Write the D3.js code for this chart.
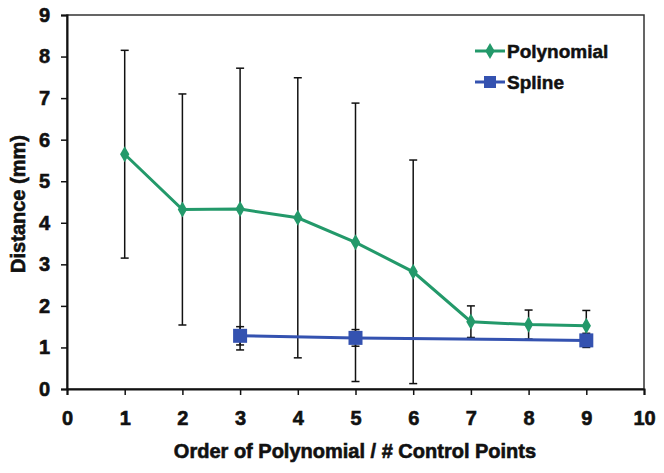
<!DOCTYPE html>
<html>
<head>
<meta charset="utf-8">
<script src="https://cdn.jsdelivr.net/npm/d3@7"></script>
<style>
  body { margin: 0; background: #fff; }
  text { font-family: "Liberation Sans", Arial, sans-serif; font-weight: bold; }
</style>
</head>
<body>
<svg id="canvas" width="664" height="473"></svg>
<script>
// x positions
let polyX = [1, 2, 3, 4, 5, 6, 7, 8, 9]
let polyY = [5.65, 4.32, 4.33, 4.12, 3.53, 2.82, 1.62, 1.55, 1.52]
let polyErr = [2.5, 2.78, 3.39, 3.37, 3.35, 2.69, 0.38, 0.35, 0.37]

let splineX = [3, 5, 9]
let splineY = [1.28, 1.23, 1.17]
let splineErr = [0.22, 0.2, 0.17]

let xTicks = [0, 1, 2, 3, 4, 5, 6, 7, 8, 9, 10]
let yTicks = [0, 1, 2, 3, 4, 5, 6, 7, 8, 9]

let green = '#23996a'
let blue = '#3452b0'

let canvas = d3.select('#canvas')

let plotLeft = 67, plotRight = 644, plotTop = 15, plotBottom = 389

let x = d3.scaleLinear().domain([0, 10]).range([plotLeft, plotRight])
let y = d3.scaleLinear().domain([0, 9]).range([plotBottom, plotTop])

// plot frame
canvas.append('rect')
  .attr('x', plotLeft).attr('y', plotTop)
  .attr('width', plotRight - plotLeft).attr('height', plotBottom - plotTop)
  .attr('fill', 'none').attr('stroke', '#333').attr('stroke-width', 1.5)

// axes
let xAxis = canvas.append('g')
  .attr('transform', `translate(0,${plotBottom})`)
  .call(d3.axisBottom(x).tickValues(xTicks).tickSize(6).tickPadding(16))
let yAxis = canvas.append('g')
  .attr('transform', `translate(${plotLeft},0)`)
  .call(d3.axisLeft(y).tickValues(yTicks).tickSize(6).tickPadding(11))

;[xAxis, yAxis].forEach(a => {
  a.select('.domain').attr('stroke', '#111').attr('stroke-width', 2)
  a.selectAll('.tick line').attr('stroke', '#111').attr('stroke-width', 1.5)
  a.selectAll('.tick text')
    .attr('fill', '#111')
    .attr('stroke', '#111').attr('stroke-width', 0.6)
    .style('font-size', '20px')
    .style('font-family', '"Liberation Sans", Arial, sans-serif')
    .style('font-weight', 'bold')
})

// error bars
let drawErr = (xs, ys, es, cls) => {
  let g = canvas.append('g').attr('class', cls)
  xs.forEach((xv, i) => {
    let cx = x(xv)
    let y1 = y(ys[i] + es[i]), y2 = y(ys[i] - es[i])
    g.append('line').attr('x1', cx).attr('x2', cx).attr('y1', y1).attr('y2', y2)
      .attr('stroke', '#111').attr('stroke-width', 1.5)
    ;[y1, y2].forEach(yy => {
      g.append('line').attr('x1', cx - 4).attr('x2', cx + 4).attr('y1', yy).attr('y2', yy)
        .attr('stroke', '#111').attr('stroke-width', 1.5)
    })
  })
}
drawErr(polyX, polyY, polyErr, 'poly-err')
drawErr(splineX, splineY, splineErr, 'spline-err')

let line = d3.line().x(d => x(d[0])).y(d => y(d[1]))

let polyData = polyX.map((v, i) => [v, polyY[i]])
let splineData = splineX.map((v, i) => [v, splineY[i]])

canvas.append('path').datum(polyData)
  .attr('d', line).attr('fill', 'none')
  .attr('stroke', green).attr('stroke-width', 3)

canvas.append('path').datum(splineData)
  .attr('d', line).attr('fill', 'none')
  .attr('stroke', blue).attr('stroke-width', 3)

let diamond = d3.symbol().type(d3.symbolDiamond).size(75)

canvas.selectAll('.pm').data(polyData).enter()
  .append('path')
  .attr('class', 'pm')
  .attr('d', diamond)
  .attr('transform', d => `translate(${x(d[0])},${y(d[1])})`)
  .attr('fill', green)

canvas.selectAll('.sm').data(splineData).enter()
  .append('rect')
  .attr('class', 'sm')
  .attr('x', d => x(d[0]) - 7).attr('y', d => y(d[1]) - 7)
  .attr('width', 14).attr('height', 14)
  .attr('fill', blue)

// legend
let legend = canvas.append('g')
let items = [['Polynomial', green, 'diamond'], ['Spline', blue, 'square']]
items.forEach((it, i) => {
  let ly = 51 + i * 31
  legend.append('line').attr('x1', 475).attr('x2', 505).attr('y1', ly).attr('y2', ly)
    .attr('stroke', it[1]).attr('stroke-width', 3)
  if (it[2] == 'diamond') {
    legend.append('path').attr('d', diamond).attr('transform', `translate(490,${ly})`).attr('fill', it[1])
  } else {
    legend.append('rect').attr('x', 484).attr('y', ly - 6).attr('width', 12).attr('height', 12).attr('fill', it[1])
  }
  legend.append('text').attr('x', 507).attr('y', ly + 7)
    .style('font-size', '19px').attr('fill', '#111')
    .attr('stroke', '#111').attr('stroke-width', 0.5)
    .text(it[0])
})

// axis titles
canvas.append('text')
  .attr('x', 355).attr('y', 458)
  .attr('text-anchor', 'middle')
  .style('font-size', '20px').attr('fill', '#111')
  .attr('stroke', '#111').attr('stroke-width', 0.6)
  .text('Order of Polynomial / # Control Points')

canvas.append('text')
  .attr('transform', 'translate(25,204) rotate(-90)')
  .attr('text-anchor', 'middle')
  .style('font-size', '20px').attr('fill', '#111')
  .attr('stroke', '#111').attr('stroke-width', 0.6)
  .text('Distance (mm)')
</script>
</body>
</html>
